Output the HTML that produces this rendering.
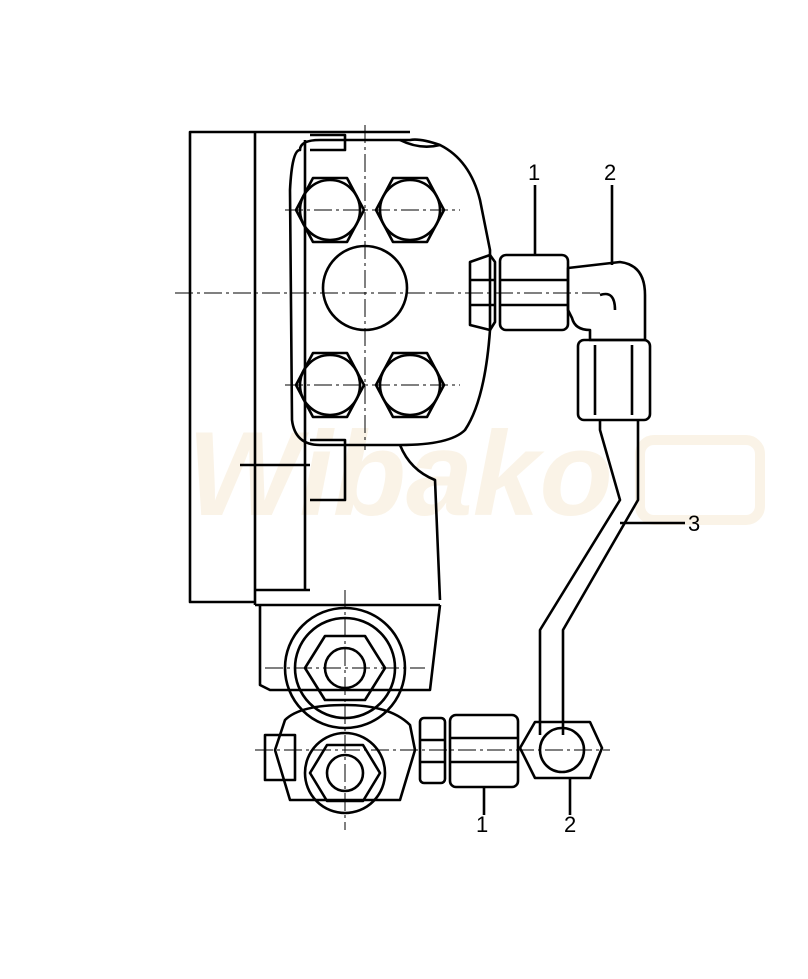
<!DOCTYPE html>
<html><head><meta charset="utf-8"><style>
html,body{margin:0;padding:0;background:#fff;width:808px;height:979px;overflow:hidden}
svg{display:block}
text{font-family:"Liberation Sans",sans-serif}
</style></head><body>
<svg width="808" height="979" viewBox="0 0 808 979" xmlns="http://www.w3.org/2000/svg">
<text x="400" y="515" text-anchor="middle" font-size="120" font-weight="bold" font-style="italic" fill="#f8eedd" opacity="0.7">Wibako</text>
<rect x="640" y="440" width="120" height="80" rx="14" fill="none" stroke="#f8eedd" stroke-width="10" opacity="0.7"/>
<g fill="none" stroke="#000" stroke-width="2.6" stroke-linejoin="round">
<polyline points="410,132 190,132 190,602 255,602"/>
<line x1="255" y1="132" x2="255" y2="605"/>
<line x1="305" y1="140" x2="305" y2="590"/>
<line x1="255" y1="590" x2="310" y2="590"/>
<line x1="240" y1="465" x2="310" y2="465"/>
<polyline points="310,440 345,440 345,500 310,500"/>
<polyline points="310,135 345,135 345,150 310,150"/>
<path d="M300,150 Q300,140 320,140 L410,140 Q420,138 440,145 Q470,160 480,200 L490,250 L490,330 Q485,400 465,430 Q450,445 400,445 L320,445 Q295,445 292,420 L290,190 Q292,150 300,150 Z"/>
<path d="M400,140 Q420,150 440,145"/>
<path d="M400,445 Q410,470 435,480 L440,600"/>
<line x1="255" y1="605" x2="440" y2="605"/>
<polygon points="296,210 313,178 347,178 364,210 347,242 313,242"/>
<polygon points="376,210 393,178 427,178 444,210 427,242 393,242"/>
<polygon points="296,385 313,353 347,353 364,385 347,417 313,417"/>
<polygon points="376,385 393,353 427,353 444,385 427,417 393,417"/>
<circle cx="330" cy="210" r="30"/><circle cx="410" cy="210" r="30"/>
<circle cx="330" cy="385" r="30"/><circle cx="410" cy="385" r="30"/>
<circle cx="365" cy="288" r="42"/>
<path d="M470,262 L490,255 L495,262 L495,322 L490,330 L470,325 Z"/>
<line x1="470" y1="280" x2="495" y2="280"/><line x1="470" y1="305" x2="495" y2="305"/>
<rect x="500" y="255" width="68" height="75" rx="6"/>
<line x1="500" y1="280" x2="568" y2="280"/><line x1="500" y1="305" x2="568" y2="305"/>
<path d="M568,268 L620,262 Q645,265 645,295 L645,340 L590,340 L590,330 Q575,330 572,318 L568,310 Z"/>
<path d="M600,295 Q615,290 615,310"/>
<rect x="578" y="340" width="72" height="80" rx="6"/>
<line x1="595" y1="345" x2="595" y2="415"/><line x1="632" y1="345" x2="632" y2="415"/>
<path d="M600,420 L600,430 L620,500 L540,630 L540,735"/>
<path d="M638,420 L638,500 L563,630 L563,735"/>
<path d="M260,605 L260,685 L270,690 L430,690 L440,605"/>
<circle cx="345" cy="668" r="60"/>
<circle cx="345" cy="668" r="50"/>
<polygon points="305,668 325,636 365,636 385,668 365,700 325,700"/>
<circle cx="345" cy="668" r="20"/>
<path d="M285,720 Q300,705 345,705 Q390,705 410,725 L415,750 L400,800 L290,800 L275,750 Z"/>
<rect x="265" y="735" width="30" height="45"/>
<circle cx="345" cy="773" r="40"/>
<polygon points="310,773 327,745 363,745 380,773 363,801 327,801"/>
<circle cx="345" cy="773" r="18"/>
<rect x="420" y="718" width="25" height="65" rx="4"/>
<line x1="420" y1="740" x2="445" y2="740"/><line x1="420" y1="762" x2="445" y2="762"/>
<rect x="450" y="715" width="68" height="72" rx="6"/>
<line x1="450" y1="738" x2="518" y2="738"/><line x1="450" y1="762" x2="518" y2="762"/>
<polygon points="520,748 535,722 590,722 602,748 590,778 535,778"/>
<circle cx="562" cy="750" r="22"/>
<line x1="535" y1="185" x2="535" y2="255"/>
<line x1="612" y1="185" x2="612" y2="265"/>
<line x1="620" y1="523" x2="685" y2="523"/>
<line x1="484" y1="787" x2="484" y2="815"/>
<line x1="570" y1="778" x2="570" y2="815"/>
</g>
<g stroke="#000" stroke-width="1" stroke-dasharray="18,4,3,4" fill="none">
<line x1="175" y1="293" x2="500" y2="293"/>
<line x1="365" y1="125" x2="365" y2="450"/>
<line x1="285" y1="210" x2="460" y2="210"/>
<line x1="285" y1="385" x2="460" y2="385"/>
<line x1="345" y1="590" x2="345" y2="830"/>
<line x1="265" y1="668" x2="425" y2="668"/>
<line x1="255" y1="750" x2="610" y2="750"/>
<line x1="495" y1="293" x2="600" y2="293"/>
</g>
<g font-size="22" fill="#000">
<text x="528" y="180">1</text>
<text x="604" y="180">2</text>
<text x="688" y="531">3</text>
<text x="476" y="832">1</text>
<text x="564" y="832">2</text>
</g>
</svg>
</body></html>
